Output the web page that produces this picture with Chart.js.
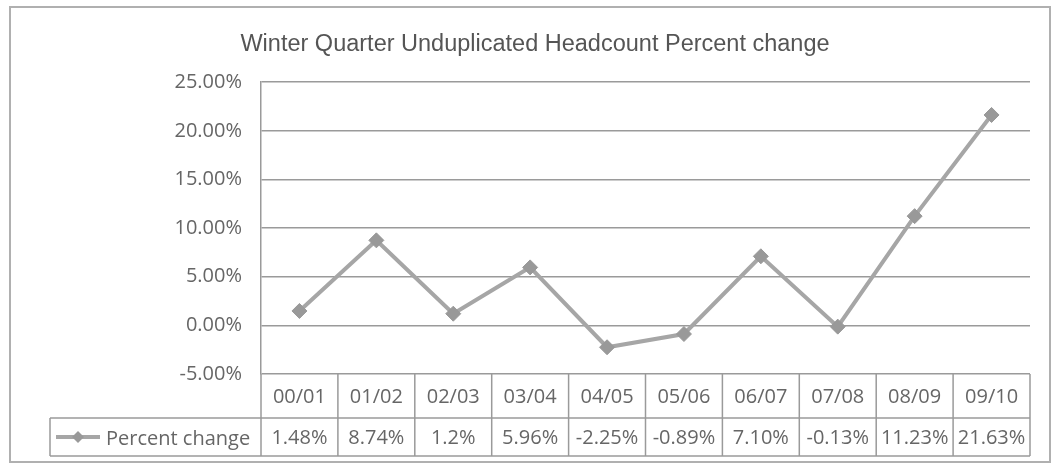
<!DOCTYPE html>
<html>
<head>
<meta charset="utf-8">
<script src="https://cdn.jsdelivr.net/npm/chart.js@4.4.1/dist/chart.umd.min.js"></script>
<style>
  body { margin: 0; background: #fff; }
  canvas { display: block; }
</style>
</head>
<body>
<canvas id="grafica" width="1055" height="464"></canvas>
<script>
// datos de la tabla
const categorias = ['00/01', '01/02', '02/03', '03/04', '04/05', '05/06', '06/07', '07/08', '08/09', '09/10'];
const valores = [1.48, 8.74, 1.2, 5.96, -2.25, -0.89, 7.10, -0.13, 11.23, 21.63];
const textoValores = ['1.48%', '8.74%', '1.2%', '5.96%', '-2.25%', '-0.89%', '7.10%', '-0.13%', '11.23%', '21.63%'];
const nombreSerie = 'Percent change';
const titulo = 'Winter Quarter Unduplicated Headcount Percent change';

const colorTexto = '#666';
const colorLineas = '#9a9a9a';
const fuenteTabla = '20px "Open Sans"';

// marco exterior
const marco = {
    id: 'marco',
    beforeDraw(chart) {
        const ctx = chart.ctx;
        ctx.save();
        ctx.fillStyle = '#fff';
        ctx.fillRect(0, 0, chart.width, chart.height);
        ctx.strokeStyle = '#b0b0b0';
        ctx.lineWidth = 2;
        ctx.strokeRect(10, 7, 1040, 455);
        ctx.restore();
    }
};

// tabla de datos debajo del grafico (como en Excel)
const tablaDatos = {
    id: 'tablaDatos',
    afterDraw(chart) {
        const ctx = chart.ctx;
        const x = chart.scales.x;
        const area = chart.chartArea;
        const mitad = (x.getPixelForValue(1) - x.getPixelForValue(0)) / 2;
        const yCab = area.bottom;
        const yVal = yCab + 44;
        const yFin = yVal + 38;
        const izq = 50;

        ctx.save();
        ctx.strokeStyle = colorLineas;
        ctx.lineWidth = 1.5;
        ctx.beginPath();
        // lineas verticales entre categorias
        for (let i = 0; i <= categorias.length; i++) {
            const px = x.getPixelForValue(i) - mitad;
            ctx.moveTo(px, yCab);
            ctx.lineTo(px, yFin);
        }
        ctx.moveTo(izq, yVal); ctx.lineTo(area.right, yVal);
        ctx.moveTo(izq, yFin); ctx.lineTo(area.right, yFin);
        ctx.moveTo(izq, yVal); ctx.lineTo(izq, yFin);
        ctx.stroke();

        ctx.fillStyle = colorTexto;
        ctx.font = fuenteTabla;
        ctx.textAlign = 'center';
        ctx.textBaseline = 'middle';
        for (let i = 0; i < categorias.length; i++) {
            const px = x.getPixelForValue(i);
            ctx.fillText(categorias[i], px, yCab + 23);
            ctx.fillText(textoValores[i], px, yVal + 20);
        }

        // leyenda
        const yl = yVal + 19;
        ctx.strokeStyle = '#a6a6a6';
        ctx.lineWidth = 4;
        ctx.beginPath();
        ctx.moveTo(56, yl);
        ctx.lineTo(100, yl);
        ctx.stroke();
        ctx.fillStyle = '#999';
        ctx.beginPath();
        ctx.moveTo(78, yl - 6); ctx.lineTo(84, yl); ctx.lineTo(78, yl + 6); ctx.lineTo(72, yl);
        ctx.closePath();
        ctx.fill();
        ctx.fillStyle = colorTexto;
        ctx.textAlign = 'left';
        ctx.fillText(nombreSerie, 106, yVal + 21);
        ctx.restore();
    }
};

const ctx = document.getElementById('grafica').getContext('2d');
new Chart(ctx, {
    type: 'line',
    data: {
        labels: categorias,
        datasets: [{
            label: nombreSerie,
            data: valores,
            borderColor: '#a6a6a6',
            borderWidth: 4,
            pointStyle: 'rectRot',
            pointRadius: 7.5,
            pointBackgroundColor: '#999',
            pointBorderColor: '#999',
            pointBorderWidth: 1,
            tension: 0,
            fill: false
        }]
    },
    options: {
        responsive: false,
        animation: false,
        layout: { padding: { top: 0, left: 40, right: 25, bottom: 82 } },
        plugins: {
            legend: { display: false },
            tooltip: { enabled: false },
            title: {
                display: true,
                text: titulo,
                color: '#555',
                font: { family: '"Liberation Sans", Arial', size: 23.5, weight: 'normal' },
                padding: { top: 30, bottom: 24 }
            }
        },
        scales: {
            x: {
                offset: true,
                grid: { display: false },
                border: { display: false },
                ticks: { display: false }
            },
            y: {
                min: -5,
                max: 25,
                afterFit(scale) { scale.width = 221; },
                ticks: {
                    stepSize: 5,
                    padding: 19,
                    color: colorTexto,
                    font: { family: '"Open Sans"', size: 20 },
                    callback: v => v.toFixed(2) + '%'
                },
                grid: { color: colorLineas, lineWidth: 1.5, drawTicks: false },
                border: { color: colorLineas, width: 1.5 }
            }
        }
    },
    plugins: [marco, tablaDatos]
});
</script>
</body>
</html>
